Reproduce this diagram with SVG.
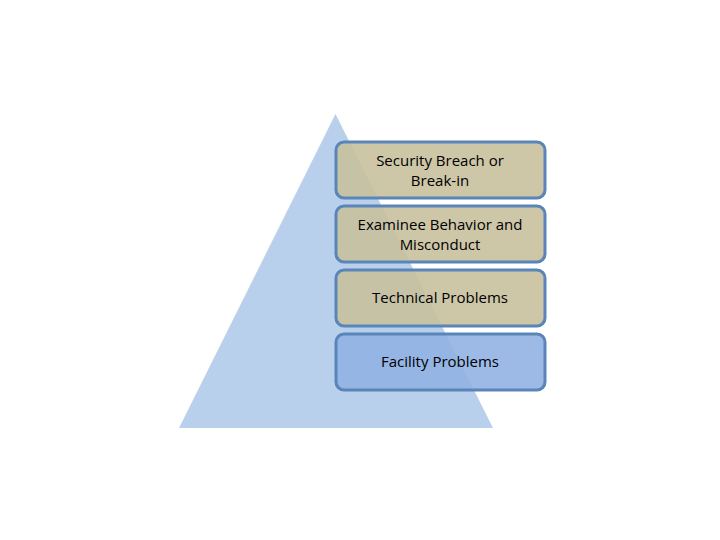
<svg xmlns="http://www.w3.org/2000/svg" width="720" height="540" viewBox="0 0 720 540">
<style>
.box{stroke:#5a85b9;stroke-width:3}
.tan{fill:#c8c09d;fill-opacity:0.9}
.blue{fill:#8fb1e2;fill-opacity:0.88}
text{font-family:"Open Sans","Liberation Sans",sans-serif;font-size:15px;fill:#000;text-anchor:middle}
</style>
<rect width="720" height="540" fill="#fff"/>
<g id="pyramid"><polygon points="335.5,114 179,428 493,428" fill="#b9d0ec"/></g>
<g id="n1"><rect class="box tan" x="336" y="142" width="209" height="56" rx="8"/><text x="440" y="166">Security Breach or</text><text x="440" y="186">Break-in</text></g>
<g id="n2"><rect class="box tan" x="336" y="206" width="209" height="56" rx="8"/><text x="440" y="230">Examinee Behavior and</text><text x="440" y="250">Misconduct</text></g>
<g id="n3"><rect class="box tan" x="336" y="270" width="209" height="56" rx="8"/><text x="440" y="303">Technical Problems</text></g>
<g id="n4"><rect class="box blue" x="336" y="334" width="209" height="56" rx="8"/><text x="440" y="367">Facility Problems</text></g>
<g id="connectors"/>
</svg>
